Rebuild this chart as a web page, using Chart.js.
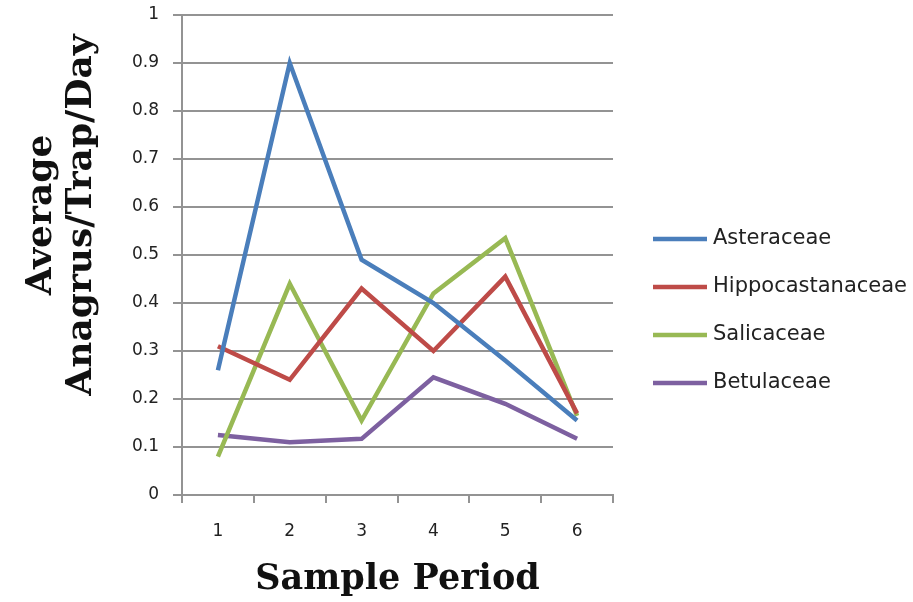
<!DOCTYPE html>
<html>
<head>
<meta charset="utf-8">
<script src="https://cdn.jsdelivr.net/npm/chart.js@4"></script>
<style>
  html, body { margin: 0; padding: 0; background: #fff; }
  canvas { display: block; }
</style>
</head>
<body>
<canvas id="grafico" width="913" height="602"></canvas>
<script>
const periodos = ['1', '2', '3', '4', '5', '6'];
const asteraceae = [0.26, 0.90, 0.49, 0.40, 0.28, 0.155];
const hippocastanaceae = [0.31, 0.24, 0.43, 0.30, 0.455, 0.17];
const salicaceae = [0.08, 0.44, 0.155, 0.42, 0.535, 0.165];
const betulaceae = [0.125, 0.11, 0.117, 0.245, 0.19, 0.117];

const cinza = '#939393';

// titulo do eixo y e legenda desenhados a mao
const extras = {
    id: 'extras',
    afterDraw(chart) {
        const ctx = chart.ctx;
        ctx.save();
        ctx.fillStyle = '#111';
        ctx.font = 'bold 36px "DejaVu Serif"';
        ctx.textAlign = 'center';
        ctx.textBaseline = 'middle';
        ctx.translate(0, 215);
        ctx.rotate(-Math.PI / 2);
        ctx.fillText('Average', 0, 42);
        ctx.fillText('Anagrus/Trap/Day', 0, 82);
        ctx.restore();

        ctx.save();
        ctx.font = '21px "DejaVu Sans"';
        ctx.textBaseline = 'middle';
        ctx.textAlign = 'left';
        chart.data.datasets.forEach((ds, i) => {
            const y = 239 + i * 48;
            ctx.strokeStyle = ds.borderColor;
            ctx.lineWidth = 4.5;
            ctx.beginPath();
            ctx.moveTo(653, y);
            ctx.lineTo(707, y);
            ctx.stroke();
            ctx.fillStyle = '#222';
            ctx.fillText(ds.label, 713, y);
        });
        ctx.restore();
    }
};

new Chart(document.getElementById('grafico'), {
    type: 'line',
    data: {
        labels: periodos,
        datasets: [
            { label: 'Asteraceae', data: asteraceae, borderColor: '#4a7ebb' },
            { label: 'Hippocastanaceae', data: hippocastanaceae, borderColor: '#be4b48' },
            { label: 'Salicaceae', data: salicaceae, borderColor: '#98b954' },
            { label: 'Betulaceae', data: betulaceae, borderColor: '#7d60a0' }
        ].map(d => Object.assign(d, { borderWidth: 4.5, pointRadius: 0, fill: false, tension: 0 }))
    },
    options: {
        responsive: false,
        animation: false,
        devicePixelRatio: 1,
        layout: { padding: { left: 0, top: 15, right: 300, bottom: 0 } },
        plugins: { legend: { display: false }, tooltip: { enabled: false } },
        scales: {
            x: {
                offset: true,
                grid: { offset: true, drawOnChartArea: false, color: cinza, lineWidth: 2, tickLength: 8 },
                border: { color: cinza, width: 2 },
                ticks: { color: '#222', font: { family: 'DejaVu Sans', size: 17 }, padding: 18, maxRotation: 0 },
                title: {
                    display: true,
                    text: 'Sample Period',
                    color: '#111',
                    font: { family: 'DejaVu Serif', size: 35, weight: 'bold' },
                    padding: { top: 0, bottom: 1 }
                },
                afterFit(scale) { scale.height = 107; }
            },
            y: {
                min: 0,
                max: 1,
                ticks: {
                    stepSize: 0.1,
                    color: '#222',
                    font: { family: 'DejaVu Sans', size: 17 },
                    padding: 14,
                    callback: v => String(Math.round(v * 10) / 10)
                },
                grid: { color: cinza, lineWidth: 2, tickLength: 9 },
                border: { color: cinza, width: 2 },
                afterFit(scale) {
                    scale.width = 182;
                    scale.paddingTop = 0;
                    scale.paddingBottom = 0;
                }
            }
        }
    },
    plugins: [extras]
});
</script>
</body>
</html>
